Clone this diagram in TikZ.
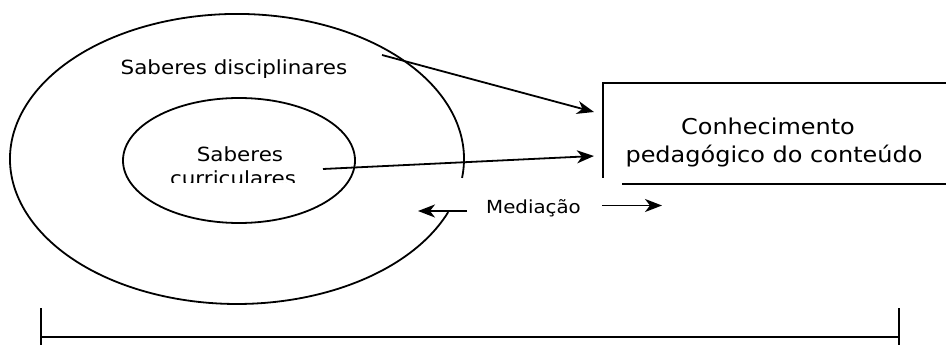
\documentclass[tikz,border=0pt]{standalone}
\usepackage{fontspec}
\newfontfamily\diagfont{DejaVu Sans}[FakeStretch=1.1]
\usetikzlibrary{arrows.meta,shapes.geometric}
\begin{document}
\begin{tikzpicture}[x=1pt,y=-1pt,
  line/.style={line width=1.8pt},
  arr/.style={line, -{Stealth[length=17pt,width=13pt,inset=5pt]}},
  lbl/.style={inner sep=0pt, anchor=base, font=\diagfont\fontsize{19.5}{23}\selectfont},
  bigl/.style={lbl, font=\diagfont\fontsize{21.8}{26}\selectfont},
  smalll/.style={lbl, anchor=base west, font=\diagfont\fontsize{18}{21}\selectfont}]
\useasboundingbox (0,0) rectangle (946,345);

% outer ring: open on the right, between the two arrows
\coordinate (oc) at (237,159);
\draw[line] (448.2,212.1) arc[start angle=21.5, end angle=367.5, x radius=227, y radius=145];

% inner ellipse
\node[draw, line, ellipse, minimum width=232pt, minimum height=125pt, inner sep=0pt] (inner) at (239,160.5) {};

% labels of the two rings, cut at their lower edge
\begin{scope}
  \clip (100,40) rectangle (370,77.5);
  \node[lbl] (disc) at (234,75) {Saberes disciplinares};
\end{scope}
\node[lbl] (sab) at (240,161) {Saberes};
\begin{scope}
  \clip (150,163) rectangle (320,182);
  \node[lbl] (curr) at (233,185.5) {curriculares};
\end{scope}

% open box on the right
\node[bigl] (ck1) at (768,134) {Conhecimento};
\node[bigl] (ck2) at (774,162) {pedagógico do conteúdo};
\coordinate (bxTL) at (603,83);
\coordinate (bxTR) at (946,83);
\coordinate (bxBL) at (603,178);
\coordinate (bxB1) at (622,184);
\coordinate (bxB2) at (946,184);
\draw[line] (bxTR) -- (bxTL) -- (bxBL);
\draw[line] (bxB1) -- (bxB2);

% arrows into the box
\coordinate (a1s) at (382,55);
\coordinate (a1e) at (594,112);
\coordinate (a2s) at (323,169);
\coordinate (a2e) at (594,156);
\draw[arr] (a1s) -- (a1e);
\draw[arr] (a2s) -- (a2e);

% mediation
\node[smalll] (med) at (486,213) {Mediação};
\coordinate (m1s) at (467,211);
\coordinate (m1e) at (418,211);
\coordinate (m2s) at (602,205.5);
\coordinate (m2e) at (662,205.5);
\draw[arr] (m1s) -- (m1e);
\draw[arr] (m2s) -- (m2e);

% bracket along the bottom
\coordinate (bl) at (41,308);
\coordinate (br) at (899,308);
\coordinate (bl2) at (41,345);
\coordinate (br2) at (899,345);
\draw[line] (bl) -- (bl2);
\draw[line] (br) -- (br2);
\draw[line width=2.8pt] (41,337) -- (899,337);
\end{tikzpicture}
\end{document}
